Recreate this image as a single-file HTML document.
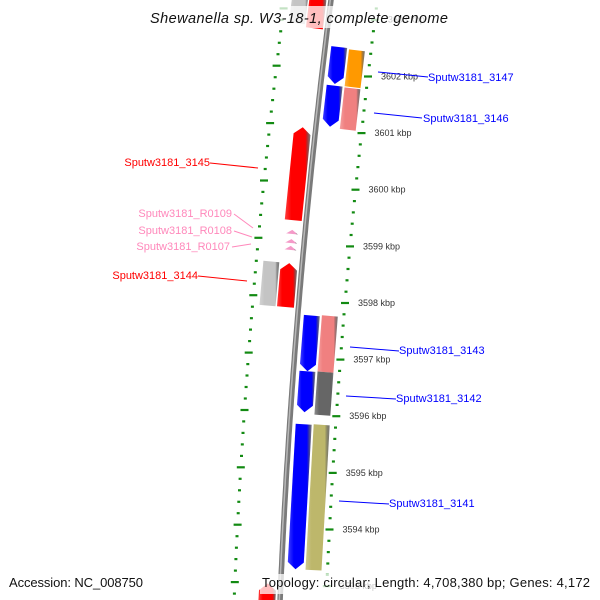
<!DOCTYPE html>
<html><head><meta charset="utf-8"><style>
html,body{margin:0;padding:0;background:#fff;width:600px;height:600px;overflow:hidden}
svg{display:block;font-family:"Liberation Sans",sans-serif;overflow:hidden}
</style></head><body>
<svg id="map" width="600" height="600" viewBox="0 0 600 600" xmlns="http://www.w3.org/2000/svg">
<defs id="defs"><clipPath id="frame"><rect x="0" y="0" width="600" height="600"/></clipPath></defs>
<g clip-path="url(#frame)">
<g id="rulers"></g>
<path id="backbone" fill="none"/>
<path id="backbone-hi" fill="none"/>
<g id="features"></g>
<g id="labels"></g>
<g id="title-g">
<rect x="146" y="6" width="306" height="22" fill="#fff" opacity="0.75"/>
<text x="299" y="23" text-anchor="middle" font-size="14.5" font-style="italic" fill="#111" textLength="298">Shewanella sp. W3-18-1, complete genome</text>
</g>
<g id="footer">
<rect x="260" y="574" width="332" height="20" fill="#fff" opacity="0.75"/>
<text x="9" y="587" font-size="13" fill="#111" textLength="134">Accession: NC_008750</text>
<text x="262" y="587" font-size="13" fill="#111" textLength="328">Topology: circular; Length: 4,708,380 bp; Genes: 4,172</text>
</g>
</g>
</svg>
<script>
// ---- data ----
const featStart = [3603.40,3603.35,3602.45,3602.43,3601.77,3601.76,3600.99,3599.19,3599.03,3598.91,3598.61,3598.61,3597.73,3597.75,3596.75,3596.76,3595.82,3595.83,3593.00];
const featEnd   = [3602.77,3602.72,3601.80,3601.78,3601.05,3601.03,3599.36,3599.12,3598.96,3598.84,3597.84,3597.84,3596.75,3596.76,3596.03,3596.00,3593.27,3593.27,3592.60];
const featLane  = [-31,-13,14,32,14,32,-13,-13,-13,-13,-31,-13,14,32,14,32,14,32,-13];
const featColor = ["#c4c4c4","#ff0000","#0000ff","#ff9900","#0000ff","#f08080","#ff0000","#f49ac8","#f49ac8","#f49ac8","#c4c4c4","#ff0000","#0000ff","#f08080","#0000ff","#666666","#0000ff","#bdb76b","#ff0000"];
const featArrow = ["none","up","down","none","down","none","up","tri","tri","tri","none","up","down","none","down","none","down","none","up"];
const tickKbp = [3603,3602,3601,3600,3599,3598,3597,3596,3595,3594,3593,3592];
const geneLabels = ["Sputw3181_3147","Sputw3181_3146","Sputw3181_3145","Sputw3181_R0109","Sputw3181_R0108","Sputw3181_R0107","Sputw3181_3144","Sputw3181_3143","Sputw3181_3142","Sputw3181_3141"];
const labelColors = ["#0000ff","#0000ff","#ff0000","#ff88bb","#ff88bb","#ff88bb","#ff0000","#0000ff","#0000ff","#0000ff"];
// ---- layout ----
const labelLayout = [
 {tx:428,ty:81,anchor:"start",x1:378,y1:72,x2:428,y2:77},
 {tx:423,ty:122,anchor:"start",x1:374,y1:113,x2:422,y2:118},
 {tx:210,ty:166,anchor:"end",x1:210,y1:163,x2:258,y2:168},
 {tx:232,ty:217,anchor:"end",x1:234,y1:214,x2:253,y2:228},
 {tx:232,ty:234,anchor:"end",x1:234,y1:231,x2:252,y2:237},
 {tx:230,ty:250,anchor:"end",x1:232,y1:247,x2:251,y2:244},
 {tx:198,ty:279,anchor:"end",x1:198,y1:276,x2:247,y2:281},
 {tx:399,ty:354,anchor:"start",x1:350,y1:347,x2:399,y2:351},
 {tx:396,ty:402,anchor:"start",x1:346,y1:396,x2:396,y2:399},
 {tx:389,ty:507,anchor:"start",x1:339,y1:501,x2:389,y2:504}
];
const NS="http://www.w3.org/2000/svg";
function bx(y){return 331-0.128*y+7.2e-5*y*y;}
function slope(y){return -0.128+2*7.2e-5*y;}
function yOf(kb){return 71+(3602-kb)*57;}
function P(y0,u){const s=slope(y0),n=Math.sqrt(1+s*s);return [bx(y0)+u/n,y0-u*s/n];}
function mk(tag,attrs,parent){const e=document.createElementNS(NS,tag);for(const k in attrs)e.setAttribute(k,attrs[k]);parent.appendChild(e);return e;}
let d="";for(let y=-10;y<=600;y+=5){d+=(y===-10?"M":"L")+bx(y).toFixed(1)+","+y;}
const bb=document.getElementById("backbone");bb.setAttribute("d",d);bb.setAttribute("stroke","#7a7a7a");bb.setAttribute("stroke-width","5.5");
const bh=document.getElementById("backbone-hi");bh.setAttribute("d",d);bh.setAttribute("stroke","#b8b8b8");bh.setAttribute("stroke-width","1.5");bh.setAttribute("transform","translate(-0.8,0)");
const rg=document.getElementById("rulers");
for(let kb=3604;kb>=3592;kb-=0.2){
  const k=Math.round(kb*5)/5;const major=Math.abs(k-Math.round(k))<0.01;
  const y0=yOf(k);if(y0<-15||y0>596)continue;
  [46,-46].forEach(u=>{
    const p=P(y0,u);const w=major?8:3;
    if(p[1]>597)return;
    const r=mk("rect",{x:(p[0]-w/2).toFixed(1),y:(p[1]-1).toFixed(1),width:w,height:2.2,fill:"#128a12"},rg);
    
    
  });
}
tickKbp.forEach(kb=>{
  const p=P(yOf(kb),46);
  if(p[1]>596||p[1]<10)return;
  const t=mk("text",{x:(p[0]+13).toFixed(1),y:(p[1]+3).toFixed(1),"font-size":"9",fill:"#333"},rg);
  t.textContent=kb+" kbp";
  
  
});
const defs=document.getElementById("defs");const gmap={};
featColor.forEach(c=>{if(gmap[c])return;const id="g"+Object.keys(gmap).length;gmap[c]=id;
  const g=mk("linearGradient",{id:id,x1:"0",y1:"0",x2:"1",y2:"0"},defs);
  mk("stop",{offset:"0","stop-color":c,"stop-opacity":"0.75"},g);
  mk("stop",{offset:"0.25","stop-color":c},g);
  mk("stop",{offset:"0.8","stop-color":c},g);
  mk("stop",{offset:"1","stop-color":"#000","stop-opacity":"0.5"},g);});
const fg=document.getElementById("features");
featStart.forEach((s,i)=>{
  const u=featLane[i],w=featLane[i]<0&&Math.abs(u)<20?17:16,a=featArrow[i];
  const yT=yOf(s),yB=Math.min(yOf(featEnd[i]),605);const L=u-w/2,R=u+w/2,h=7;let pts=[];
  if(a==="down"){pts=[P(yT,L),P(yT,R),P(yB-h,R),P(yB,u),P(yB-h,L)];}
  else if(a==="up"){pts=[P(yT+h,L),P(yT,u),P(yT+h,R),P(yB,R),P(yB,L)];}
  else if(a==="tri"){pts=[P(yT,u),P(yB,u+6),P(yB,u-6)];}
  else{pts=[P(yT,L),P(yT,R),P(yB,R),P(yB,L)];}
  const poly=mk("polygon",{points:pts.map(p=>p[0].toFixed(1)+","+Math.min(p[1],600).toFixed(1)).join(" "),fill:"url(#"+gmap[featColor[i]]+")"},fg);
  
  
});
const lg=document.getElementById("labels");
geneLabels.forEach((txt,i)=>{
  const L=labelLayout[i];
  const ln=mk("line",{x1:L.x1,y1:L.y1,x2:L.x2,y2:L.y2,stroke:labelColors[i],"stroke-width":"1"},lg);
  
  
  const t=mk("text",{x:L.tx,y:L.ty,"text-anchor":L.anchor,"font-size":"11",fill:labelColors[i]},lg);
  t.textContent=txt;
  
  
});
</script>
</body></html>
